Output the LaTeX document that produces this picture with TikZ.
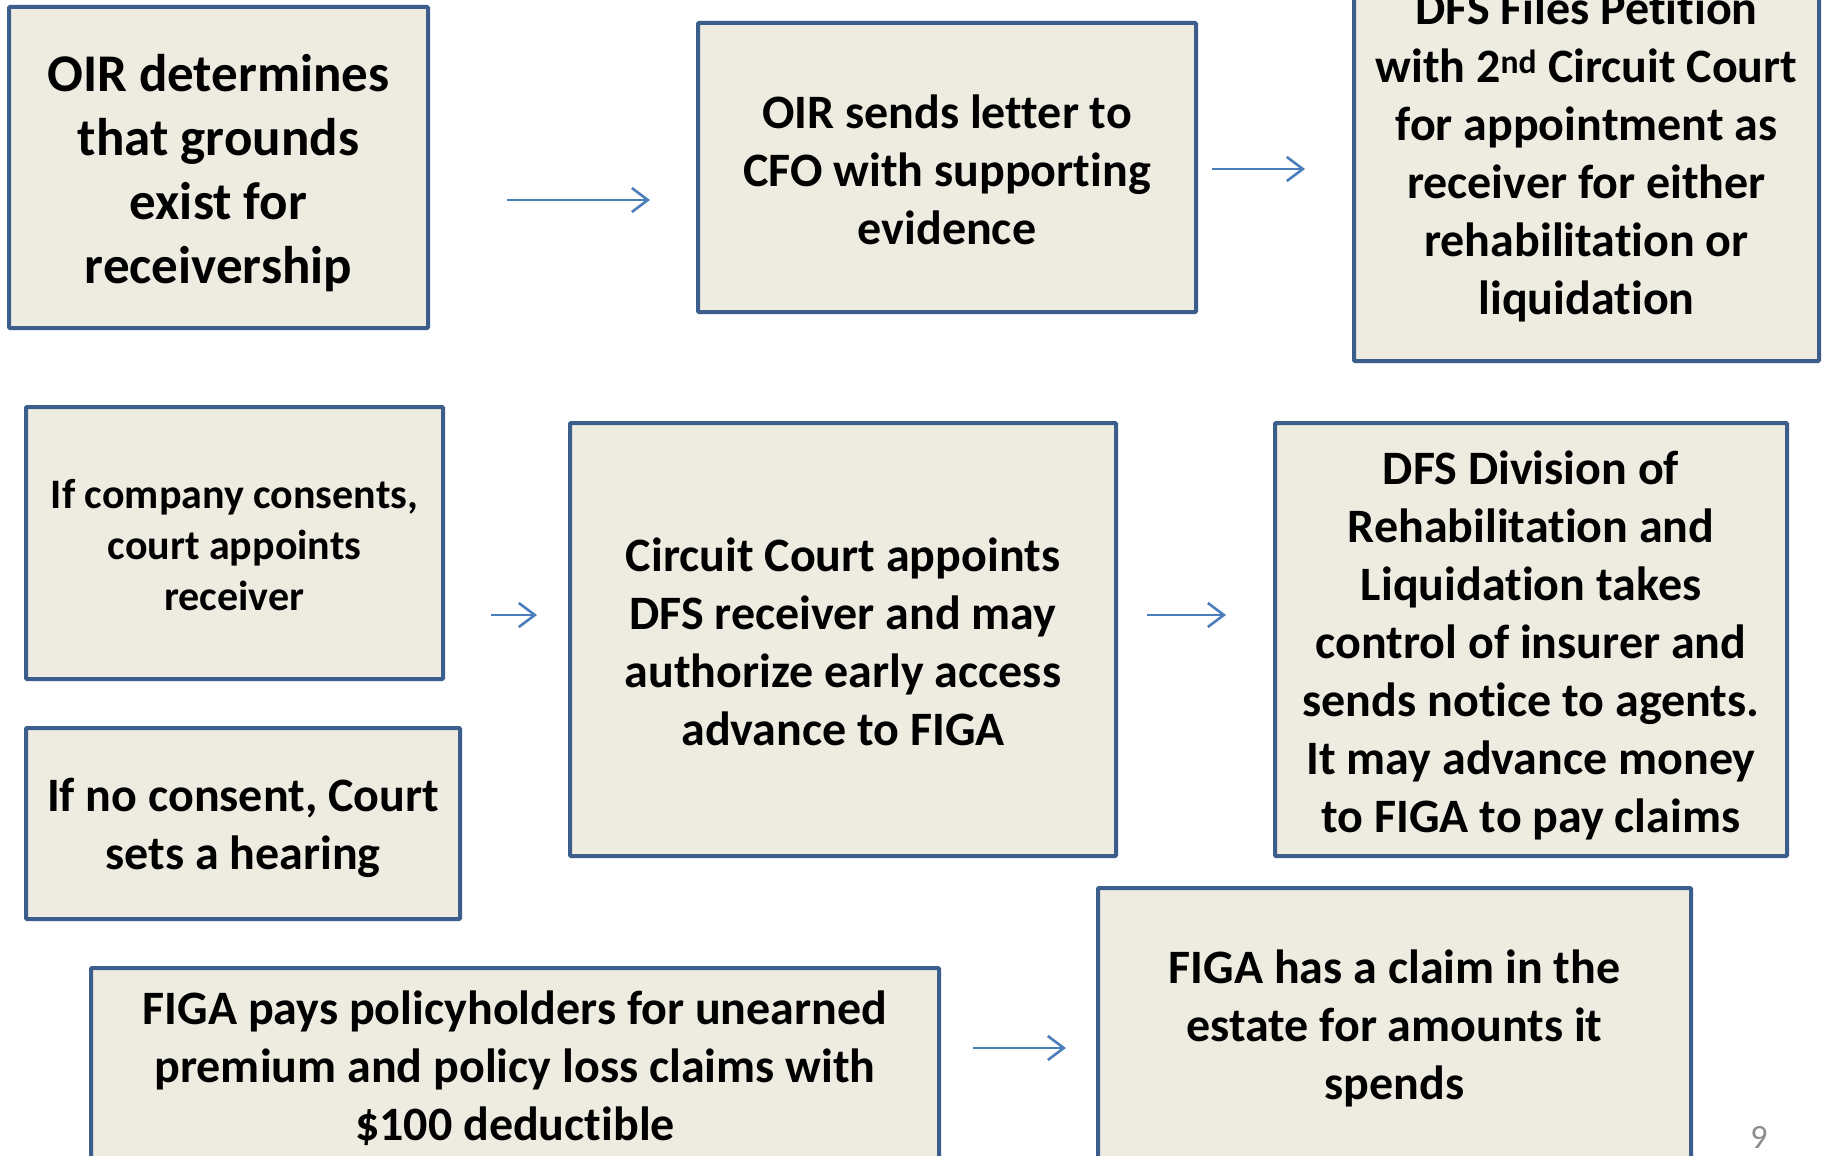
\documentclass[tikz,border=0pt]{standalone}
\usepackage{fontspec}
\setmainfont{Carlito}[Ligatures=NoCommon]
\usetikzlibrary{arrows.meta}
\definecolor{boxfill}{HTML}{EEECE1}
\definecolor{boxline}{HTML}{3B5E8C}
\definecolor{arrowc}{HTML}{4A7EBB}
\begin{document}
\begin{tikzpicture}[x=1pt,y=-1pt,
  box/.style={draw=boxline, line width=4pt, fill=boxfill, rounded corners=1pt,
    inner sep=0pt},
  boxtext/.style={align=center, inner sep=0pt, yshift=-2pt,
    font=\bfseries\fontsize{48}{58}\selectfont},
  bigtext/.style={boxtext, yshift=-4pt, font=\bfseries\fontsize{53}{64}\selectfont},
  smalltext/.style={boxtext, font=\bfseries\fontsize{42}{51}\selectfont},
  flow/.style={draw=arrowc, line width=2.6pt,
    -{Straight Barb[length=16pt,width=24pt,line width=2.6pt]}}]
\useasboundingbox (0,0) rectangle (1824,1156);
\clip (0,0) rectangle (1824,1156);
\fill[white] (0,0) rectangle (1824,1156);

\node[box, minimum width=419pt, minimum height=321pt,
  label={[bigtext]center:OIR determines\\that grounds\\exist for\\receivership}]
  (b1) at (218.5,167.5) {};
\node[box, minimum width=498pt, minimum height=289pt,
  label={[boxtext]center:OIR sends letter to\\CFO with supporting\\evidence}]
  (b2) at (947,167.5) {};
\node[box, minimum width=465pt, minimum height=414pt,
  label={[boxtext]center:DFS Files Petition\\with 2\textsuperscript{nd} Circuit Court\\for appointment as\\receiver for either\\rehabilitation or\\liquidation}]
  (b3) at (1586.5,154) {};
\node[box, minimum width=417pt, minimum height=272pt,
  label={[smalltext]center:If company consents,\\court appoints\\receiver}]
  (b4) at (234.5,543) {};
\node[box, minimum width=434pt, minimum height=191pt,
  label={[boxtext, yshift=-2pt]center:If no consent, Court\\sets a hearing}]
  (b5) at (243,823.5) {};
\node[box, minimum width=546pt, minimum height=433pt,
  label={[boxtext]center:Circuit Court appoints\\DFS receiver and may\\authorize early access\\advance to FIGA}]
  (b6) at (843,639.5) {};
\node[box, minimum width=512pt, minimum height=433pt,
  label={[boxtext, yshift=-4pt]center:DFS Division of\\Rehabilitation and\\Liquidation takes\\control of insurer and\\sends notice to agents.\\It may advance money\\to FIGA to pay claims}]
  (b7) at (1531,639.5) {};
\node[box, minimum width=848pt, minimum height=196pt,
  label={[boxtext]center:FIGA pays policyholders for unearned\\premium and policy loss claims with\\\$100 deductible}]
  (b8) at (515,1066) {};
\node[box, minimum width=593pt, minimum height=276pt,
  label={[boxtext]center:FIGA has a claim in the\\estate for amounts it\\spends}]
  (b9) at (1394.5,1026) {};

\coordinate (a1s) at (507,200);   \coordinate (a1e) at (650,200);
\coordinate (a2s) at (1212,169);  \coordinate (a2e) at (1305,169);
\coordinate (a3s) at (491,615);   \coordinate (a3e) at (537,615);
\coordinate (a4s) at (1147,615);  \coordinate (a4e) at (1226,615);
\coordinate (a5s) at (973,1048);  \coordinate (a5e) at (1066,1048);
\draw[flow] (a1s) -- (a1e);
\draw[flow] (a2s) -- (a2e);
\draw[flow] (a3s) -- (a3e);
\draw[flow] (a4s) -- (a4e);
\draw[flow] (a5s) -- (a5e);

\node[text=black!45, font=\fontsize{34}{40}\selectfont] (pg) at (1759,1137) {9};
\end{tikzpicture}
\end{document}
